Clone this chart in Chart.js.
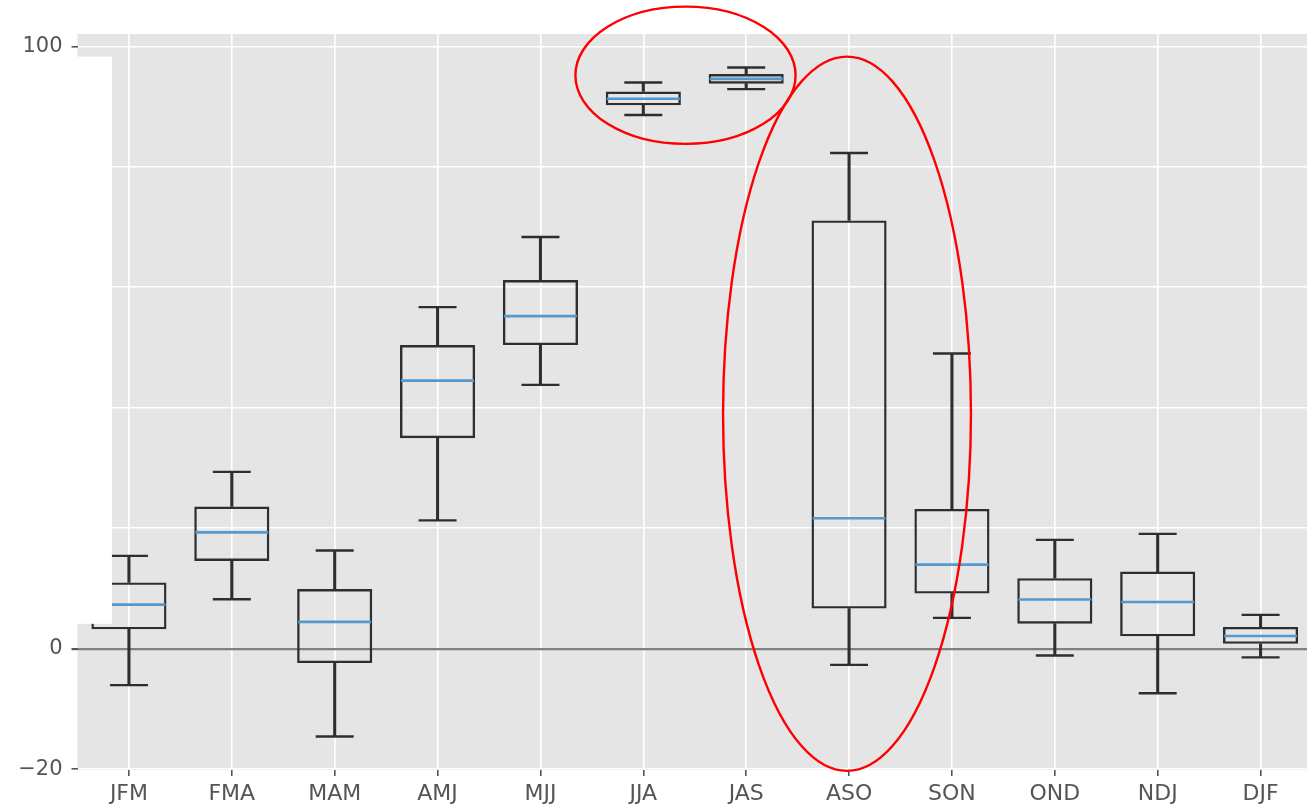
<!DOCTYPE html>
<html>
<head>
<meta charset="utf-8">
<script src="https://cdn.jsdelivr.net/npm/chart.js@4/dist/chart.umd.min.js"></script>
<style>
    html, body { margin: 0; padding: 0; background: #fff; overflow: hidden; }
    #wrap { position: absolute; left: 0; top: 0; }
</style>
</head>
<body>
<div id="wrap"><canvas id="box" width="1312" height="811"></canvas></div>
<script>
const categories = ["JFM", "FMA", "MAM", "AMJ", "MJJ", "JJA", "JAS", "ASO", "SON", "OND", "NDJ", "DJF"];
const whiskerLow  = [-6.05,  8.2, -14.6, 21.3, 43.8, 88.6, 92.9, -2.7,  5.1, -1.15, -7.4, -1.45];
const quartile1   = [ 3.2,  14.55, -2.4, 34.95, 50.4, 90.2, 93.8,  6.65, 9.15, 4.15, 2.05, 0.8];
const medians     = [ 7.3,  19.3,  4.45, 44.5, 55.2, 91.3, 94.6, 21.65, 13.95, 8.15, 7.75, 2.1];
const quartile3   = [11.0,  23.6,  9.9,  50.4, 61.2, 92.5, 95.4, 71.1, 23.2, 11.7, 12.8, 3.6];
const whiskerHigh = [15.4,  29.35, 16.3, 56.7, 68.35, 94.0, 96.5, 82.3, 49.0, 18.05, 19.05, 5.6];
const yTicks = [-20, 0, 20, 40, 60, 80, 100];

// hand-drawn red ellipses: [centre category index, centre value, x radius (categories), y radius (values)]
const ellipses = [
    [5.41, 95.2, 1.07, 11.4],
    [6.98, 39.0, 1.205, 59.3],
];

const INK = "#2e2e2e";
const MEDIAN = "#5299cf";
const LW = 2.4;

const backdrop = {
    id: "backdrop",
    beforeDraw(chart) {
        const { ctx, chartArea: a } = chart;
        ctx.save();
        ctx.fillStyle = "#e5e5e5";
        ctx.fillRect(a.left, a.top, a.right - a.left, a.bottom - a.top);
        ctx.restore();
    },
    afterDraw(chart) {
        const { ctx } = chart;
        const x = chart.scales.x;
        const y = chart.scales.y;
        // white patch that covers the upper left of the picture
        ctx.save();
        ctx.fillStyle = "#fff";
        const top = y.getPixelForValue(98.3);
        const bottom = y.getPixelForValue(4.12);
        const right = x.getPixelForValue(0) - 17;
        ctx.fillRect(0, top, right, bottom - top);

        const unit = x.getPixelForValue(1) - x.getPixelForValue(0);
        ctx.strokeStyle = "#ff0000";
        ctx.lineWidth = 2.4;
        ellipses.forEach(([ci, cv, rx, ry]) => {
            const cx = x.getPixelForValue(0) + ci * unit;
            const cy = y.getPixelForValue(cv);
            const py = Math.abs(y.getPixelForValue(cv + ry) - cy);
            ctx.beginPath();
            ctx.ellipse(cx, cy, rx * unit, py, 0, 0, Math.PI * 2);
            ctx.stroke();
        });
        ctx.restore();
    },
};

const family = "'DejaVu Sans', sans-serif";

new Chart(document.getElementById("box"), {
    type: "bar",
    data: {
        labels: categories,
        datasets: [
            {
                label: "median",
                type: "line",
                data: medians,
                showLine: false,
                pointStyle: "line",
                pointRadius: 36.5,
                pointBorderWidth: 2.6,
                pointBorderColor: MEDIAN,
                borderColor: MEDIAN,
                order: 0,
            },
            {
                label: "box",
                data: categories.map((c, i) => [quartile1[i], quartile3[i]]),
                backgroundColor: "rgba(0,0,0,0)",
                borderColor: INK,
                borderWidth: LW,
                borderSkipped: false,
                grouped: false,
                barPercentage: 0.73,
                categoryPercentage: 1,
                order: 1,
            },
            {
                label: "lower whisker",
                data: categories.map((c, i) => [whiskerLow[i], quartile1[i]]),
                backgroundColor: INK,
                borderWidth: 0,
                barThickness: LW,
                grouped: false,
                order: 2,
            },
            {
                label: "upper whisker",
                data: categories.map((c, i) => [quartile3[i], whiskerHigh[i]]),
                backgroundColor: INK,
                borderWidth: 0,
                barThickness: LW,
                grouped: false,
                order: 2,
            },
            {
                label: "low cap",
                type: "line",
                data: whiskerLow,
                showLine: false,
                pointStyle: "line",
                pointRadius: 19,
                pointBorderWidth: LW,
                pointBorderColor: INK,
                order: 2,
            },
            {
                label: "high cap",
                type: "line",
                data: whiskerHigh,
                showLine: false,
                pointStyle: "line",
                pointRadius: 19,
                pointBorderWidth: LW,
                pointBorderColor: INK,
                order: 2,
            },
        ],
    },
    options: {
        responsive: false,
        animation: false,
        events: [],
        layout: { autoPadding: false, padding: { top: 34, left: 0, right: 0, bottom: 0 } },
        plugins: {
            legend: { display: false },
            tooltip: { enabled: false },
        },
        scales: {
            x: {
                offset: true,
                grid: {
                    offset: false,
                    color: "#ffffff",
                    lineWidth: 1.6,
                    tickColor: "#555",
                    tickLength: 6,
                },
                border: { display: false },
                ticks: { color: "#555", font: { family, size: 22 }, padding: 5, maxRotation: 0 },
                afterFit(scale) {
                    scale.height = 41;
                    scale.paddingLeft = 0;
                    scale.paddingRight = 0;
                },
            },
            y: {
                min: -20.15,
                max: 102.05,
                afterBuildTicks(scale) {
                    scale.ticks = yTicks.map(v => ({ value: v }));
                },
                grid: {
                    color: ctx => (ctx.tick && ctx.tick.value === 0 ? "#808080" : "#ffffff"),
                    lineWidth: ctx => (ctx.tick && ctx.tick.value === 0 ? 2.2 : 1.6),
                    tickColor: "#555",
                    tickLength: 6,
                },
                border: { display: false },
                ticks: {
                    color: "#555",
                    font: { family, size: 21 },
                    padding: 9,
                    callback: v => (v < 0 ? "\u2212" + Math.abs(v) : String(v)),
                },
                afterFit(scale) {
                    scale.width = 77.5;
                    scale.paddingTop = 0;
                    scale.paddingBottom = 0;
                },
            },
        },
    },
    plugins: [backdrop],
});
</script>
</body>
</html>
